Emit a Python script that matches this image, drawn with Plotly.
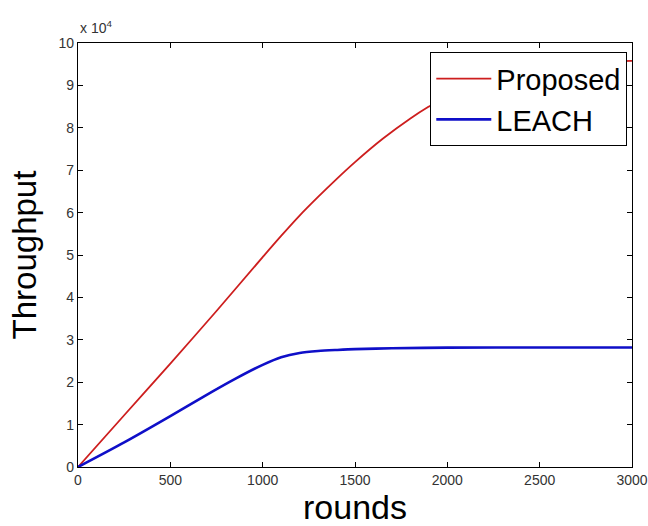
import plotly.graph_objects as go

# Data (throughput; the axis shows values x 10^4)
proposed_rounds = [0, 250, 500, 750, 1000, 1100, 1200, 1300, 1400, 1500, 1650, 1800,
                   1900, 2000, 2200, 2400, 2600, 2800, 3000]
proposed_values = [0, 12200, 24400, 36800, 49500, 54500, 59300, 63700, 67900, 71900,
                   77400, 82200, 85000, 87500, 91200, 93600, 95000, 95600, 95800]

leach_rounds = [0, 250, 500, 676, 856, 1000, 1100, 1200, 1300, 1400, 1500, 1700,
                2000, 2500, 3000]
leach_values = [0, 5800, 12000, 16500, 20900, 24100, 25900, 26900, 27350, 27600,
                27800, 28000, 28150, 28200, 28200]

x_ticks = [0, 500, 1000, 1500, 2000, 2500, 3000]
y_ticks = [i * 10000 for i in range(11)]
y_tick_labels = [str(i) for i in range(11)]

FONT = "Liberation Sans, Arial, Helvetica, sans-serif"

fig = go.Figure()
fig.add_trace(go.Scatter(
    x=proposed_rounds, y=proposed_values, mode="lines", name="Proposed",
    line=dict(color="rgb(205,30,30)", width=1.8, shape="spline", smoothing=0.8),
))
fig.add_trace(go.Scatter(
    x=leach_rounds, y=leach_values, mode="lines", name="LEACH",
    line=dict(color="rgb(15,15,200)", width=2.6, shape="spline", smoothing=0.8),
))

axis_common = dict(
    showline=True, linecolor="black", linewidth=1.2, mirror="ticks",
    ticks="inside", ticklen=5, tickcolor="black", tickwidth=1,
    showgrid=False, zeroline=False, automargin=False,
    tickfont=dict(family=FONT, size=14, color="#333333"),
)

fig.update_xaxes(
    range=[0, 3000], tickvals=x_ticks, ticktext=[str(v) for v in x_ticks],
    title=dict(text="rounds", font=dict(family=FONT, size=34, color="black"), standoff=11),
    **axis_common,
)
fig.update_yaxes(
    range=[0, 100000], tickvals=y_ticks, ticktext=y_tick_labels,
    title=dict(text="Throughput", font=dict(family=FONT, size=33, color="black"), standoff=11),
    **axis_common,
)

fig.add_annotation(
    xref="paper", yref="paper", x=0.0, y=1.0, xanchor="left", yanchor="bottom",
    yshift=5, text="x 10<sup>4</sup>", showarrow=False,
    font=dict(family=FONT, size=14, color="#333333"),
)

fig.update_layout(
    width=648, height=526,
    margin=dict(l=78, r=16, t=43, b=59),
    paper_bgcolor="white", plot_bgcolor="white",
    showlegend=True,
    legend=dict(
        x=0.9915, y=0.978, xanchor="right", yanchor="top",
        bgcolor="white", bordercolor="black", borderwidth=1,
        font=dict(family=FONT, size=29, color="black"),
        itemwidth=55, tracegroupgap=0,
    ),
)

fig.write_html(
    "out.html",
    config={"displayModeBar": False},
    post_script="document.body.style.margin='0';document.body.style.overflow='hidden';",
)
